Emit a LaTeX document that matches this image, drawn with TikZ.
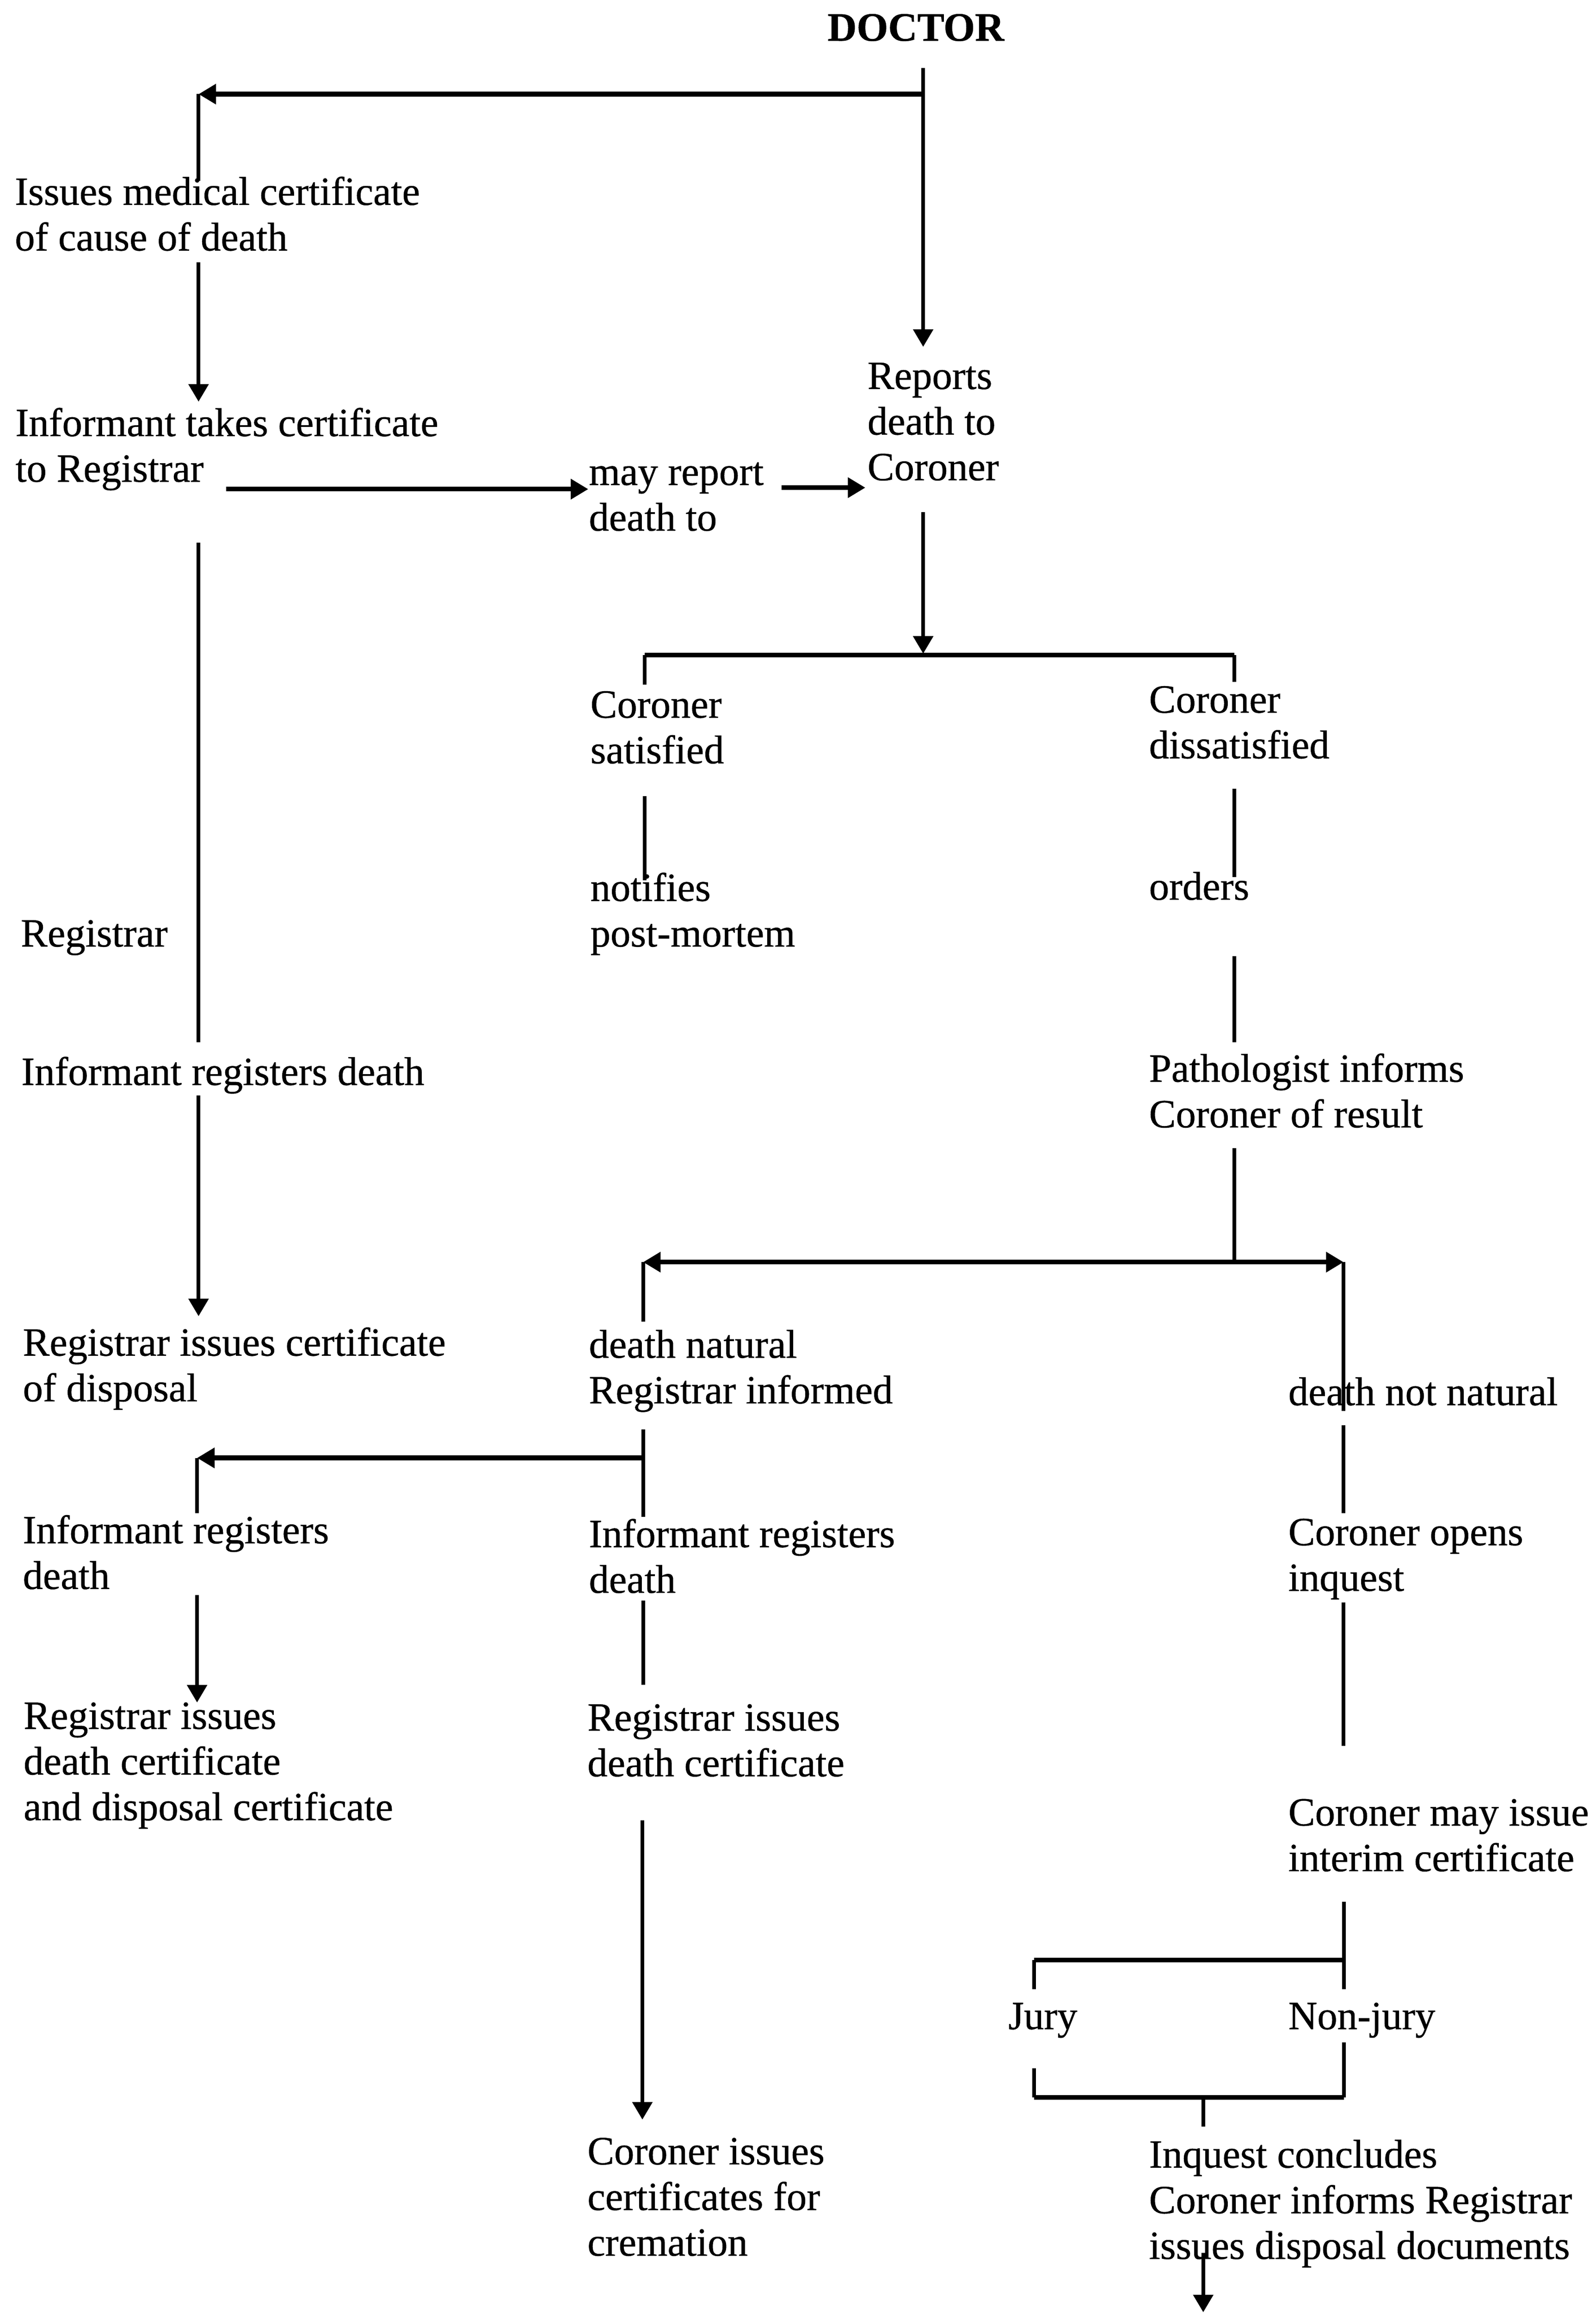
\documentclass[tikz,border=0pt]{standalone}
\usepackage{fontspec}
\setmainfont{Liberation Serif}[FakeBold=0.6]
\usetikzlibrary{arrows.meta}

\tikzset{
  txt/.style={anchor=base west, inner sep=0pt, align=left, font=\fontsize{11.9}{13.55}\selectfont},
  ln/.style={line width=1.1pt},
  hln/.style={line width=1.4pt},
  arr/.style={-{Triangle[length=5.2pt,width=5.8pt]}},
  larr/.style={{Triangle[length=5.2pt,width=5.8pt]}-{Triangle[length=5.2pt,width=5.8pt]}},
}

\begin{document}
\begin{tikzpicture}[x=0.44pt, y=-0.44pt]
\useasboundingbox (0,0) rectangle (1077,1560.5);

% texts (placed at the baseline of their last line)
\node[txt, font=\bfseries\fontsize{12}{13.55}\selectfont] (doctor) at (558,27.5) {DOCTOR};
\node[txt] (issues) at (9.6,169) {Issues medical certificate\\of cause of death};
\node[txt] (takes) at (10,325) {Informant takes certificate\\to Registrar};
\node[txt] (mayrep) at (397,358) {may report\\death to};
\node[txt] (reports) at (585,324) {Reports\\death to\\Coroner};
\node[txt] (satisf) at (398,515) {Coroner\\satisfied};
\node[txt] (dissat) at (775,511.6) {Coroner\\dissatisfied};
\node[txt] (notif) at (398,638.6) {notifies\\post-mortem};
\node[txt] (orders) at (775,607) {orders};
\node[txt] (regis) at (13.6,638.6) {Registrar};
\node[txt] (infreg) at (14,732) {Informant registers death};
\node[txt] (patho) at (775,760.6) {Pathologist informs\\Coroner of result};
\node[txt] (disp) at (15,945.4) {Registrar issues certificate\\of disposal};
\node[txt] (natural) at (397,946.8) {death natural\\Registrar informed};
\node[txt] (notnat) at (869,948) {death not natural};
\node[txt] (infregL) at (15,1072) {Informant registers\\death};
\node[txt] (infregM) at (397,1074.6) {Informant registers\\death};
\node[txt] (opens) at (869,1073.3) {Coroner opens\\inquest};
\node[txt] (deathL) at (15.5,1228) {Registrar issues\\death certificate\\and disposal certificate};
\node[txt] (deathM) at (396,1198.4) {Registrar issues\\death certificate};
\node[txt] (interim) at (869,1262.4) {Coroner may issue\\interim certificate};
\node[txt] (jury) at (680,1369) {Jury};
\node[txt] (nonjury) at (869,1369) {Non-jury};
\node[txt] (cremat) at (396,1521.8) {Coroner issues\\certificates for\\cremation};
\node[txt] (concl) at (775,1524) {Inquest concludes\\Coroner informs Registrar\\issues disposal documents};

% line ends
\foreach \n/\x/\y in {dT/623/46, dJ/623/63.5, dA/134/63.5, dB/134/122, rT/623/234,
  l1/134/177, l2/134/271, l3/134/366, l4/134/703, l5/134/739, l6/134/888,
  h1/152.5/330, h2/397/330, h3/527.5/329, h4/584/329,
  c1/623/345.6, c2/623/441,
  s1/435/462, s2/435/442, s3/833/442, s4/833/460, s5/435/537, s6/435/594,
  s7/833/532, s8/833/591.6, s9/833/645, s10/833/703, s11/833/774.6, s12/833/851.5,
  n1/434/851.5, n2/906.7/851.5, n3/434/891.6, n4/906.7/952,
  m1/434/964.3, m2/434/983.6, m3/133/983.6, m4/133/1020.8, m5/434/1023.5,
  e1/906.7/961.6, e2/906.7/1020.8,
  m6/133/1076, m7/133/1148.6, m8/434/1080, m9/434/1136.5,
  e3/906.7/1081, e4/906.7/1178, m10/433.5/1228, m11/433.5/1430,
  j1/906.8/1283, j2/906.8/1342, j3/906.8/1322.4, j4/697.7/1322.4, j5/697.7/1342,
  k1/697.7/1395.4, k2/697.7/1415, k3/906.8/1415, k4/906.8/1378,
  k5/812/1415, k6/812/1434.6, k7/812/1520, k8/812/1560}
  \coordinate (\n) at (\x,\y);

% doctor
\draw[ln, arr] (dT) -- (rT);
\draw[hln, arr] (dJ) -- (dA);
\draw[ln] (dA) -- (dB);

% registrar side
\draw[ln, arr] (l1) -- (l2);
\draw[ln] (l3) -- (l4);
\draw[ln, arr] (l5) -- (l6);
\draw[hln, arr] (h1) -- (h2);
\draw[hln, arr] (h3) -- (h4);

% coroner
\draw[ln, arr] (c1) -- (c2);
\draw[hln] (s2) -- (s3);
\draw[ln] (s1) -- (s2) (s3) -- (s4);
\draw[ln] (s5) -- (s6);
\draw[ln] (s7) -- (s8);
\draw[ln] (s9) -- (s10);
\draw[ln] (s11) -- (s12);
\draw[hln, larr] (n1) -- (n2);
\draw[ln] (n1) -- (n3) (n2) -- (n4);

% death natural
\draw[ln] (m1) -- (m5);
\draw[hln, arr] (m2) -- (m3);
\draw[ln] (m3) -- (m4);
\draw[ln, arr] (m6) -- (m7);
\draw[ln] (m8) -- (m9);
\draw[ln, arr] (m10) -- (m11);

% inquest
\draw[ln] (e1) -- (e2);
\draw[ln] (e3) -- (e4);
\draw[ln] (j1) -- (j2);
\draw[hln] (j4) -- (j3);
\draw[ln] (j4) -- (j5);
\draw[ln] (k1) -- (k2) (k3) -- (k4);
\draw[hln] (k2) -- (k3);
\draw[ln] (k5) -- (k6);
\draw[ln, arr] (k7) -- (k8);
\end{tikzpicture}
\end{document}
